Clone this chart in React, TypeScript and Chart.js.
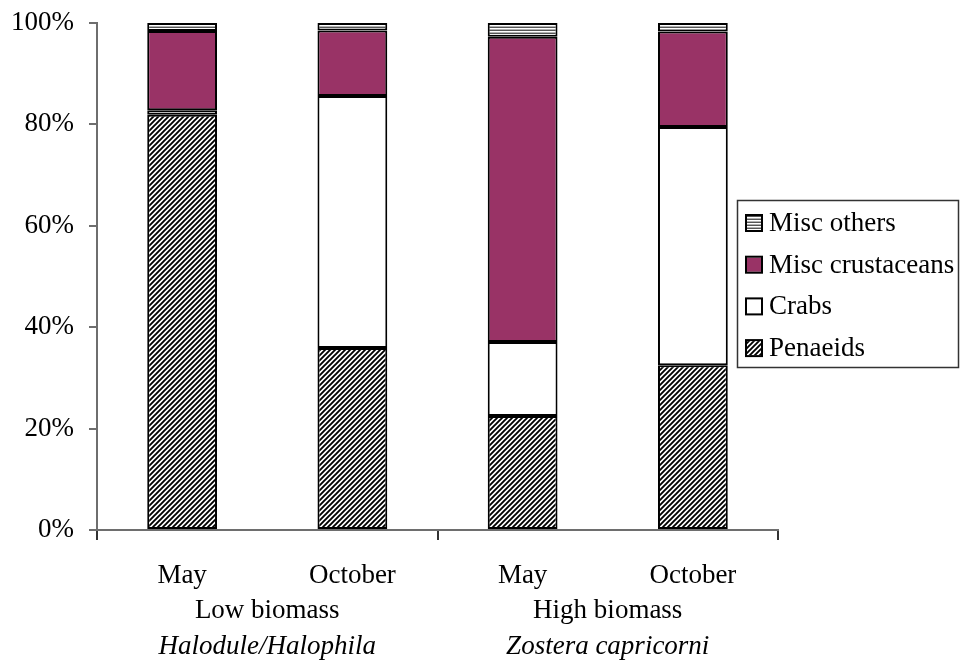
import React, { useEffect, useRef } from 'react';
import { Chart, registerables } from 'chart.js';

Chart.register(...registerables);

const categories = ['May', 'October', 'May', 'October'];
const groupLabels = ['Low biomass', 'High biomass'];
const habitatLabels = ['Halodule/Halophila', 'Zostera capricorni'];
const penaeids = [81.9, 35.9, 22.5, 32.5];
const crabs = [0.9, 49.7, 14.6, 47.0];
const miscCrustaceans = [15.6, 12.9, 60.2, 18.8];
const miscOthers = [1.6, 1.5, 2.7, 1.7];
const seriesNames = ['Penaeids', 'Crabs', 'Misc crustaceans', 'Misc others'];

const FONT = "'Liberation Serif', 'Times New Roman', serif";

function makeHatch(): CanvasPattern | string {
  const s = 5;
  const c = document.createElement('canvas');
  c.width = s;
  c.height = s;
  const g = c.getContext('2d');
  if (!g) return '#888';
  g.fillStyle = '#fff';
  g.fillRect(0, 0, s, s);
  g.strokeStyle = '#000';
  g.lineWidth = 1.9;
  g.beginPath();
  g.moveTo(-1, 1);
  g.lineTo(1, -1);
  g.moveTo(0, s);
  g.lineTo(s, 0);
  g.moveTo(s - 1, s + 1);
  g.lineTo(s + 1, s - 1);
  g.stroke();
  return g.createPattern(c, 'repeat') || '#888';
}

function makeStripes(): CanvasPattern | string {
  const c = document.createElement('canvas');
  c.width = 4;
  c.height = 3;
  const g = c.getContext('2d');
  if (!g) return '#aaa';
  g.fillStyle = '#fff';
  g.fillRect(0, 0, 4, 3);
  g.fillStyle = '#555';
  g.fillRect(0, 0, 4, 1);
  g.fillStyle = '#b0b0b0';
  g.fillRect(0, 2, 4, 1);
  return g.createPattern(c, 'repeat') || '#aaa';
}

const groupLabelPlugin = {
  id: 'groupLabels',
  afterDraw(chart: any) {
    const ctx = chart.ctx as CanvasRenderingContext2D;
    const xs = chart.scales.x;
    const bottom = chart.chartArea.bottom;
    ctx.save();
    ctx.fillStyle = '#000';
    ctx.textAlign = 'center';
    ctx.textBaseline = 'middle';
    groupLabels.forEach((lab, i) => {
      const cx = (xs.getPixelForValue(i * 2) + xs.getPixelForValue(i * 2 + 1)) / 2;
      ctx.font = `27px ${FONT}`;
      ctx.fillText(lab, cx, bottom + 81);
      ctx.font = `italic 27px ${FONT}`;
      ctx.fillText(habitatLabels[i], cx, bottom + 117);
    });
    ctx.restore();
  },
};

const legendPlugin = {
  id: 'boxLegend',
  afterDraw(chart: any) {
    const ctx = chart.ctx as CanvasRenderingContext2D;
    const ds = chart.data.datasets;
    const left = 737;
    const top = 200;
    const w = 222;
    const h = 168;
    ctx.save();
    ctx.fillStyle = '#fff';
    ctx.fillRect(left, top, w, h);
    ctx.strokeStyle = '#333';
    ctx.lineWidth = 1.5;
    ctx.strokeRect(left + 0.5, top + 0.5, w - 1, h - 1);
    ctx.font = `27px ${FONT}`;
    ctx.textBaseline = 'middle';
    ctx.textAlign = 'left';
    const order = [...ds].reverse();
    order.forEach((d: any, i: number) => {
      const cy = top + 23 + i * 41.7;
      ctx.fillStyle = d.backgroundColor;
      ctx.fillRect(747, cy - 7, 14, 14);
      ctx.strokeStyle = '#000';
      ctx.lineWidth = 2;
      ctx.strokeRect(746, cy - 8, 16, 16);
      ctx.fillStyle = '#000';
      ctx.fillText(d.label, 769, cy + 1);
    });
    ctx.restore();
  },
};

export default function App() {
  const ref = useRef<HTMLCanvasElement | null>(null);

  useEffect(() => {
    if (!ref.current) return;
    const hatch = makeHatch();
    const stripes = makeStripes();
    const values = [penaeids, crabs, miscCrustaceans, miscOthers];
    const fills: any[] = [hatch, '#ffffff', '#993366', stripes];
    const chart = new Chart(ref.current, {
      type: 'bar',
      data: {
        labels: categories,
        datasets: seriesNames.map((name, i) => ({
          label: name,
          data: values[i],
          backgroundColor: fills[i],
          borderColor: '#000',
          borderWidth: 2,
          borderSkipped: false,
          categoryPercentage: 1,
          barPercentage: 0.41,
        })),
      },
      options: {
        responsive: false,
        animation: false,
        devicePixelRatio: 1,
        layout: { padding: { top: 23, right: 182, left: 0, bottom: 0 } },
        plugins: {
          legend: { display: false },
          tooltip: { enabled: false },
          title: { display: false },
        },
        scales: {
          x: {
            stacked: true,
            afterFit: (s: any) => {
              s.height = 131;
              s.paddingLeft = 0;
              s.paddingRight = 0;
            },
            border: { display: true, color: '#6e6e6e', width: 2 },
            grid: {
              drawOnChartArea: false,
              drawTicks: true,
              tickLength: 10,
              lineWidth: 2,
              color: (c: any) =>
                c.index === undefined || c.index % 2 === 0 ? '#333' : 'rgba(0,0,0,0)',
            },
            ticks: {
              color: '#000',
              font: { family: FONT, size: 27 },
              padding: 20,
              maxRotation: 0,
            },
          },
          y: {
            stacked: true,
            min: 0,
            max: 100,
            afterFit: (s: any) => {
              s.width = 97;
              s.paddingTop = 0;
              s.paddingBottom = 0;
            },
            border: { display: true, color: '#6e6e6e', width: 2 },
            grid: {
              drawOnChartArea: false,
              drawTicks: true,
              tickLength: 8,
              lineWidth: 2,
              color: '#6e6e6e',
            },
            ticks: {
              stepSize: 20,
              color: '#000',
              font: { family: FONT, size: 27 },
              padding: 15,
              callback: (v: any) => `${v}%`,
            },
          },
        },
      },
      plugins: [groupLabelPlugin, legendPlugin],
    });
    return () => chart.destroy();
  }, []);

  return (
    <div style={{ position: 'absolute', left: 0, top: 0, width: 960, height: 661, background: '#fff' }}>
      <canvas ref={ref} width={960} height={661} />
    </div>
  );
}
